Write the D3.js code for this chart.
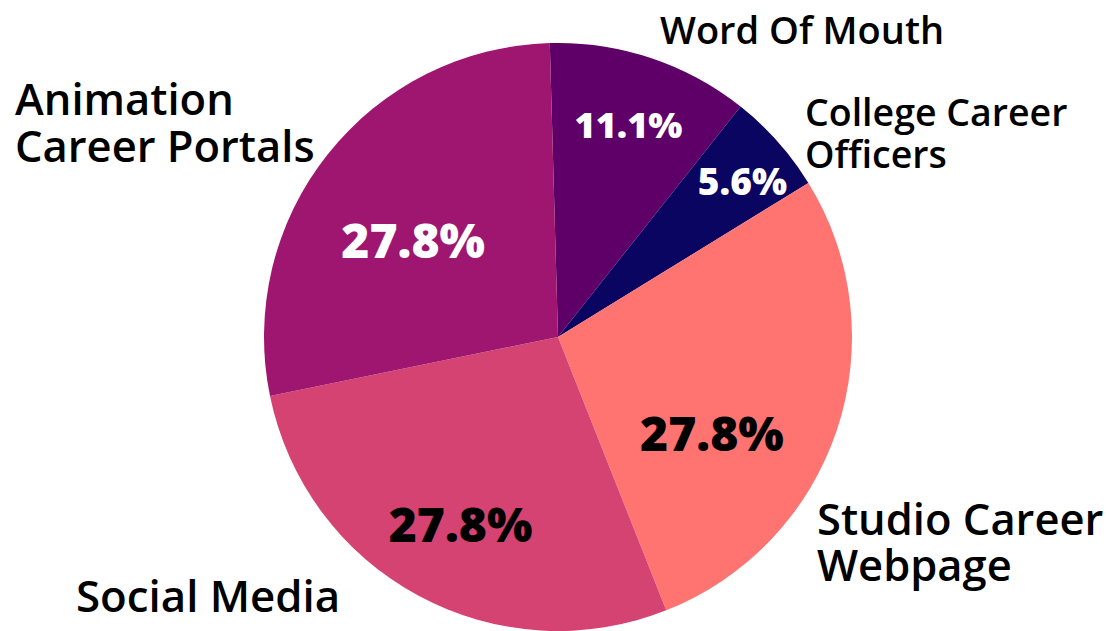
<!DOCTYPE html>
<html>
<head>
<meta charset="utf-8">
<title>Job search channels</title>
<script src="https://d3js.org/d3.v7.min.js"></script>
<style>
  body { margin: 0; background: #fff; }
  text { font-family: "Open Sans", Lato, sans-serif; }
</style>
</head>
<body>
<script>
// data, clockwise from 12 o'clock
const channels = ["Word Of Mouth", "College Career Officers", "Studio Career Webpage", "Social Media", "Animation Career Portals"];
const counts = [2, 1, 5, 5, 5];
const colors = ["#5f0069", "#0b0562", "#ff7371", "#d44372", "#9e1670"];
const nameLines = [["Word Of Mouth"], ["College Career", "Officers"], ["Studio Career", "Webpage"], ["Social Media"], ["Animation", "Career Portals"]];

const width = 1109, height = 631;
const cx = 558, cy = 337, radius = 294;
const tilt = -1.6 * Math.PI / 180;

// percent label placement: radius factor, angle shift (deg), size, colour
const pctStyle = [
    { k: 0.76, da: 0, size: 36, fill: "#fff" },
    { k: 0.82, da: 1.5, size: 37, fill: "#fff" },
    { k: 0.62, da: 14, size: 48, fill: "#000" },
    { k: 0.72, da: -1, size: 48, fill: "#000" },
    { k: 0.59, da: -5, size: 48, fill: "#fff" }
];
// name label: first baseline start, size, line gap
const nameStyle = [
    { x: 660, y: 44, size: 38, gap: 0 },
    { x: 805, y: 126, size: 37.5, gap: 42 },
    { x: 817, y: 535, size: 43.5, gap: 46 },
    { x: 76, y: 612, size: 43.8, gap: 0 },
    { x: 15, y: 115, size: 43.5, gap: 47 }
];

const total = d3.sum(counts);
const fmt = d3.format(".1%");

const svg = d3.select("body").append("svg")
    .attr("width", width)
    .attr("height", height);

const pie = d3.pie()
    .sort(null)
    .startAngle(tilt)
    .endAngle(tilt + 2 * Math.PI);

const arcs = pie(counts);
const arc = d3.arc().innerRadius(0).outerRadius(radius);

const g = svg.append("g").attr("transform", `translate(${cx},${cy})`);

g.selectAll("path")
    .data(arcs)
    .enter().append("path")
    .attr("d", arc)
    .attr("fill", (d, i) => colors[i]);

g.selectAll("text.pct")
    .data(arcs)
    .enter().append("text")
    .attr("class", "pct")
    .attr("text-anchor", "middle")
    .attr("dy", "0.35em")
    .attr("transform", (d, i) => {
        const s = pctStyle[i];
        const a = (d.startAngle + d.endAngle) / 2 + s.da * Math.PI / 180;
        const r = radius * s.k;
        return `translate(${Math.sin(a) * r},${-Math.cos(a) * r})`;
    })
    .attr("font-size", (d, i) => pctStyle[i].size)
    .attr("font-weight", 800)
    .attr("fill", (d, i) => pctStyle[i].fill)
    .text(d => fmt(d.value / total));

const names = svg.selectAll("text.name")
    .data(channels)
    .enter().append("text")
    .attr("class", "name")
    .attr("x", (d, i) => nameStyle[i].x)
    .attr("y", (d, i) => nameStyle[i].y)
    .attr("font-size", (d, i) => nameStyle[i].size)
    .attr("font-weight", 600)
    .attr("fill", "#000");

names.each(function(d, i) {
    const el = d3.select(this);
    nameLines[i].forEach((line, j) => {
        el.append("tspan")
            .attr("x", nameStyle[i].x)
            .attr("dy", j === 0 ? 0 : nameStyle[i].gap)
            .text(line);
    });
});
</script>
</body>
</html>
